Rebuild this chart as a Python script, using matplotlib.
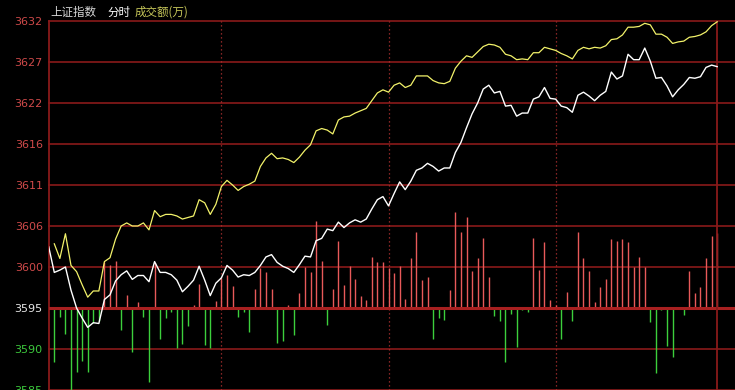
import numpy as np
import matplotlib
matplotlib.use('Agg')
import matplotlib.pyplot as plt

plt.rcParams['font.family'] = ['Noto Sans CJK SC', 'DejaVu Sans']

# ---------------- data ----------------
title_parts = ['上证指数', '分时', '成交额(万)']
tick_values = [3584.4, 3589.7, 3595.0, 3600.3, 3605.6, 3610.9, 3616.2, 3621.5, 3626.8, 3632.1]
tick_labels = ['3585', '3590', '3595', '3600', '3606', '3611', '3616', '3622', '3627', '3632']
base_price = 3595.0
white_open = 3602.9

white_price = [
    3599.6, 3599.9, 3600.3, 3597.3, 3595.0, 3593.7, 3592.5, 3593.1, 3593.0, 3596.1,
    3596.7, 3598.5, 3599.3, 3599.8, 3598.7, 3599.2, 3599.2, 3598.4, 3601.0, 3599.6,
    3599.6, 3599.3, 3598.6, 3597.1, 3597.8, 3598.6, 3600.4, 3598.6, 3596.6, 3598.2,
    3598.9, 3600.5, 3599.9, 3599.0, 3599.3, 3599.2, 3599.6, 3600.5, 3601.6, 3601.9,
    3600.9, 3600.4, 3600.1, 3599.6, 3600.6, 3601.7, 3601.6, 3603.7, 3604.0, 3605.2,
    3605.0, 3606.1, 3605.4, 3606.0, 3606.4, 3606.1, 3606.5, 3607.8, 3609.0, 3609.4,
    3608.2, 3609.8, 3611.3, 3610.3, 3611.4, 3612.8, 3613.1, 3613.7, 3613.3, 3612.7,
    3613.1, 3613.1, 3615.1, 3616.4, 3618.3, 3620.1, 3621.5, 3623.3, 3623.8, 3622.8,
    3623.0, 3621.1, 3621.2, 3619.8, 3620.2, 3620.2, 3622.0, 3622.3, 3623.5, 3622.1,
    3622.0, 3621.1, 3620.9, 3620.3, 3622.5, 3622.9, 3622.4, 3621.8, 3622.5, 3623.0,
    3625.5, 3624.6, 3625.0, 3627.8, 3627.1, 3627.1, 3628.6, 3626.9, 3624.7, 3624.8,
    3623.7, 3622.3, 3623.2, 3623.9, 3624.8, 3624.7, 3624.9, 3626.1, 3626.4, 3626.2,
]

yellow_price = [
    3603.3, 3601.4, 3604.6, 3600.5, 3599.7, 3598.0, 3596.4, 3597.2, 3597.2, 3601.0,
    3601.5, 3603.9, 3605.6, 3606.0, 3605.6, 3605.6, 3606.0, 3605.1, 3607.6, 3606.8,
    3607.1, 3607.1, 3606.9, 3606.5, 3606.7, 3606.9, 3609.0, 3608.6, 3607.1, 3608.4,
    3610.7, 3611.5, 3610.9, 3610.2, 3610.7, 3611.0, 3611.4, 3613.3, 3614.4, 3615.0,
    3614.3, 3614.4, 3614.2, 3613.8, 3614.5, 3615.4, 3616.1, 3617.9, 3618.2, 3618.0,
    3617.5, 3619.3, 3619.7, 3619.8, 3620.2, 3620.5, 3620.8, 3621.8, 3622.8, 3623.2,
    3622.9, 3623.8, 3624.1, 3623.5, 3623.8, 3625.0, 3625.0, 3625.0, 3624.4, 3624.1,
    3624.0, 3624.3, 3626.0, 3626.9, 3627.6, 3627.4, 3628.1, 3628.8, 3629.1, 3629.0,
    3628.7, 3627.8, 3627.6, 3627.1, 3627.2, 3627.1, 3628.0, 3628.0, 3628.7, 3628.5,
    3628.3, 3627.9, 3627.6, 3627.2, 3628.3, 3628.7, 3628.5, 3628.7, 3628.6, 3628.9,
    3629.7, 3629.8, 3630.3, 3631.3, 3631.3, 3631.4, 3631.8, 3631.6, 3630.4, 3630.4,
    3630.0, 3629.2, 3629.4, 3629.5, 3630.0, 3630.1, 3630.3, 3630.7, 3631.5, 3632.0,
]

# signed amount (positive = red, negative = green)
volume = [
    -55, -9, -26, -90, -65, -54, -65, -15, -13, 47,
    44, 48, -22, 13, -45, 6, -9, -75, 46, -31,
    -10, -4, -40, -36, -18, 3, 24, -37, -40, 7,
    30, 33, 22, -9, -4, -24, 19, 40, 36, 19,
    -35, -33, 3, -27, 15, 42, 36, 88, 48, -17,
    19, 68, 23, 43, 29, 12, 8, 52, 47, 47,
    40, 35, 43, 9, 51, 77, 28, 31, -31, -10,
    -12, 18, 97, 77, 92, 37, 51, 71, 31, -8,
    -13, -55, -6, -39, -2, -4, 71, 38, 67, 8,
    3, -31, 16, -13, 77, 51, 37, 6, 21, 29,
    70, 68, 70, 67, 41, 52, 41, -14, -66, -2,
    -38, -50, 0, -7, 37, 15, 21, 51, 73, 76,
]

session_marks = [30, 60, 90]
cursor_index = 119

# ---------------- styling ----------------
BG = '#000000'
GRID = '#8a1a1a'
BASE = '#a82020'
RED_BAR = '#e85a5a'
GREEN_BAR = '#3ccf3c'
YELLOW = '#f2f26a'
WHITE = '#ffffff'
VOL_SCALE = 5.3 / 41.5  # price units per amount unit

fig = plt.figure(figsize=(7.35, 3.9), dpi=100, facecolor=BG)
ax = fig.add_axes([49 / 735, 0, 686 / 735, 369 / 390], facecolor=BG)
ax.set_xlim(-0.95, 122.2)
ax.set_ylim(3585.0, 3632.1)

# horizontal grid lines
for v in tick_values:
    if abs(v - base_price) < 1e-6:
        continue
    ax.axhline(v, color=GRID, lw=1.2, zorder=1, clip_on=False)

# vertical dotted session lines
for m in session_marks:
    ax.axvline(m, color='#b03030', lw=0.9, ls=(0, (1, 2.2)), zorder=1)

# volume bars
x = np.arange(len(volume))
vol = np.array(volume, dtype=float)
colors = [RED_BAR if v > 0 else GREEN_BAR for v in vol]
ax.vlines(x, base_price, base_price + vol * VOL_SCALE, colors=colors, lw=1.0, zorder=2)

# baseline
ax.axhline(base_price, color=BASE, lw=2.2, zorder=3)

# cursor line
ax.axvline(cursor_index, color=GRID, lw=1.3, zorder=3)

# price lines
ax.plot(np.arange(len(yellow_price)), yellow_price, color=YELLOW, lw=0.9, zorder=4)
wx = np.arange(-1, len(white_price))
ax.plot(wx, [white_open] + white_price, color=WHITE, lw=1.0, zorder=5)

# axes appearance
for s in ['top', 'right', 'bottom']:
    ax.spines[s].set_visible(False)
ax.spines['left'].set_color(GRID)
ax.spines['left'].set_linewidth(1.3)
ax.set_xticks([])
ax.set_yticks(tick_values)
ax.set_yticklabels(tick_labels, fontfamily='DejaVu Sans', fontsize=8)
ax.tick_params(axis='y', length=0, pad=4.5)
for lbl, v in zip(ax.get_yticklabels(), tick_values):
    if v > base_price + 0.1:
        lbl.set_color('#d04a4a')
    elif abs(v - base_price) < 0.1:
        lbl.set_color('#e8e8e8')
    else:
        lbl.set_color('#3cc83c')

# title
ty = 1 - 12 / 390
fig.text(50 / 735, ty, title_parts[0], color='#d8d8d8', fontsize=8.3, va='center', ha='left')
fig.text(107 / 735, ty, title_parts[1], color='#ffffff', fontsize=8.3, va='center', ha='left')
fig.text(135 / 735, ty, title_parts[2], color='#c8c85a', fontsize=8.3, va='center', ha='left')

fig.savefig('out.png', dpi=100, facecolor=BG)
